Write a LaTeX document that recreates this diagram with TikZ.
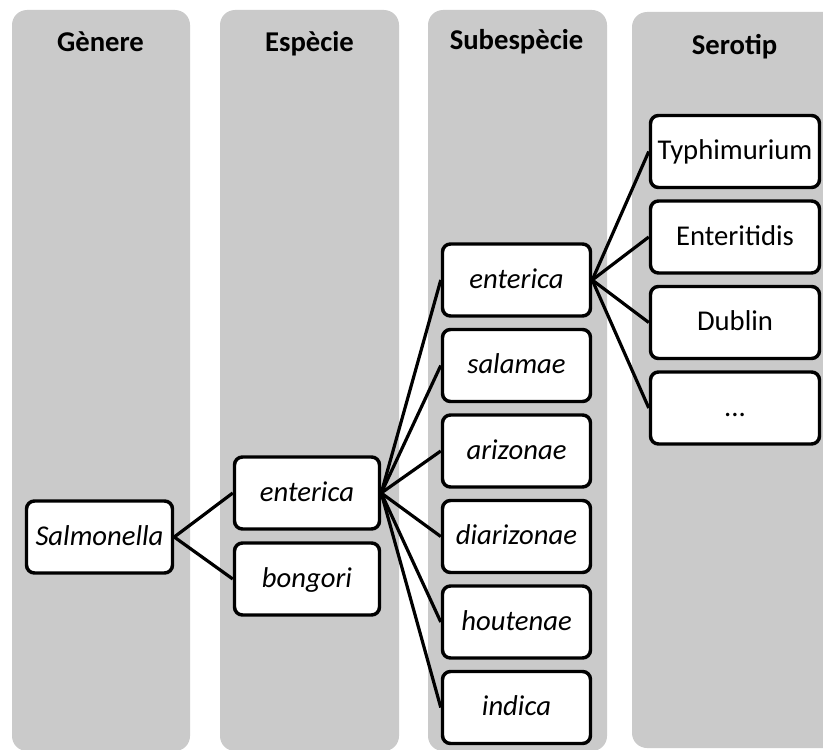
\documentclass[tikz,border=0pt]{standalone}
\usepackage{fontspec}
\setmainfont{Carlito}
\definecolor{colgray}{RGB}{202,202,202}

\begin{document}
\begin{tikzpicture}[x=0.75pt,y=0.75pt,yscale=-1,xscale=1,
    column/.style={fill=colgray, draw=none, rounded corners=11.25pt},
    title/.style={anchor=base, inner sep=0pt, font=\fontsize{21.5}{26}\selectfont\bfseries},
    taxbox/.style={draw=black, fill=white, line width=2.6pt, rounded corners=6pt,
      inner sep=0pt, minimum height=54pt, text height=16pt, text depth=4pt,
      font=\fontsize{21.5}{26}\selectfont},
    genbox/.style={taxbox, minimum width=109.5pt},
    spbox/.style={taxbox, minimum width=108.75pt},
    subbox/.style={taxbox, minimum width=111pt},
    serbox/.style={taxbox, minimum width=126.75pt},
    link/.style={line width=2.4pt}]
        \clip (0,0) rectangle (823,749);

        %Shape: Rounded Rect [columns]
        \path[column] (12,10) rectangle (190,751);
        \path[column] (220,10) rectangle (399,751);
        \path[column] (428,10) rectangle (607,751);
        \path[column] (632,12) rectangle (850,748);

        % Text Node [titles]
        \node[title] (tgen) at (100.5,51) {Gènere};
        \node[title] (tsp) at (309.5,51) {Espècie};
        \node[title] (tsub) at (516.5,50) {Subespècie};
        \node[title] (tser) at (734.5,55) {Serotip};

        % genus
        \node[genbox] (salm) at (99.5,537) {\itshape Salmonella};

        % species
        \node[spbox] (spent) at (307,493) {\itshape enterica};
        \node[spbox] (spbon) at (307,579) {\itshape bongori};

        % subspecies
        \node[subbox] (ssent) at (516.5,280) {\itshape enterica};
        \node[subbox] (sssal) at (516.5,365.5) {\itshape salamae};
        \node[subbox] (ssari) at (516.5,451) {\itshape arizonae};
        \node[subbox] (ssdia) at (516.5,536.5) {\itshape diarizonae};
        \node[subbox] (sshou) at (516.5,622) {\itshape houtenae};
        \node[subbox] (ssind) at (516.5,707.5) {\itshape indica};

        % serotypes
        \node[serbox] (sertyp) at (735,151.5) {Typhimurium};
        \node[serbox] (serent) at (735,237) {Enteritidis};
        \node[serbox] (serdub) at (735,322.5) {Dublin};
        \node[serbox] (serdot) at (735,408) {...};

        %Straight Lines [links]
        \foreach \t in {spent,spbon}
          \draw[link] (salm.east) -- (\t.west);
        \foreach \t in {ssent,sssal,ssari,ssdia,sshou,ssind}
          \draw[link] (spent.east) -- (\t.west);
        \foreach \t in {sertyp,serent,serdub,serdot}
          \draw[link] (ssent.east) -- (\t.west);
\end{tikzpicture}
\end{document}
